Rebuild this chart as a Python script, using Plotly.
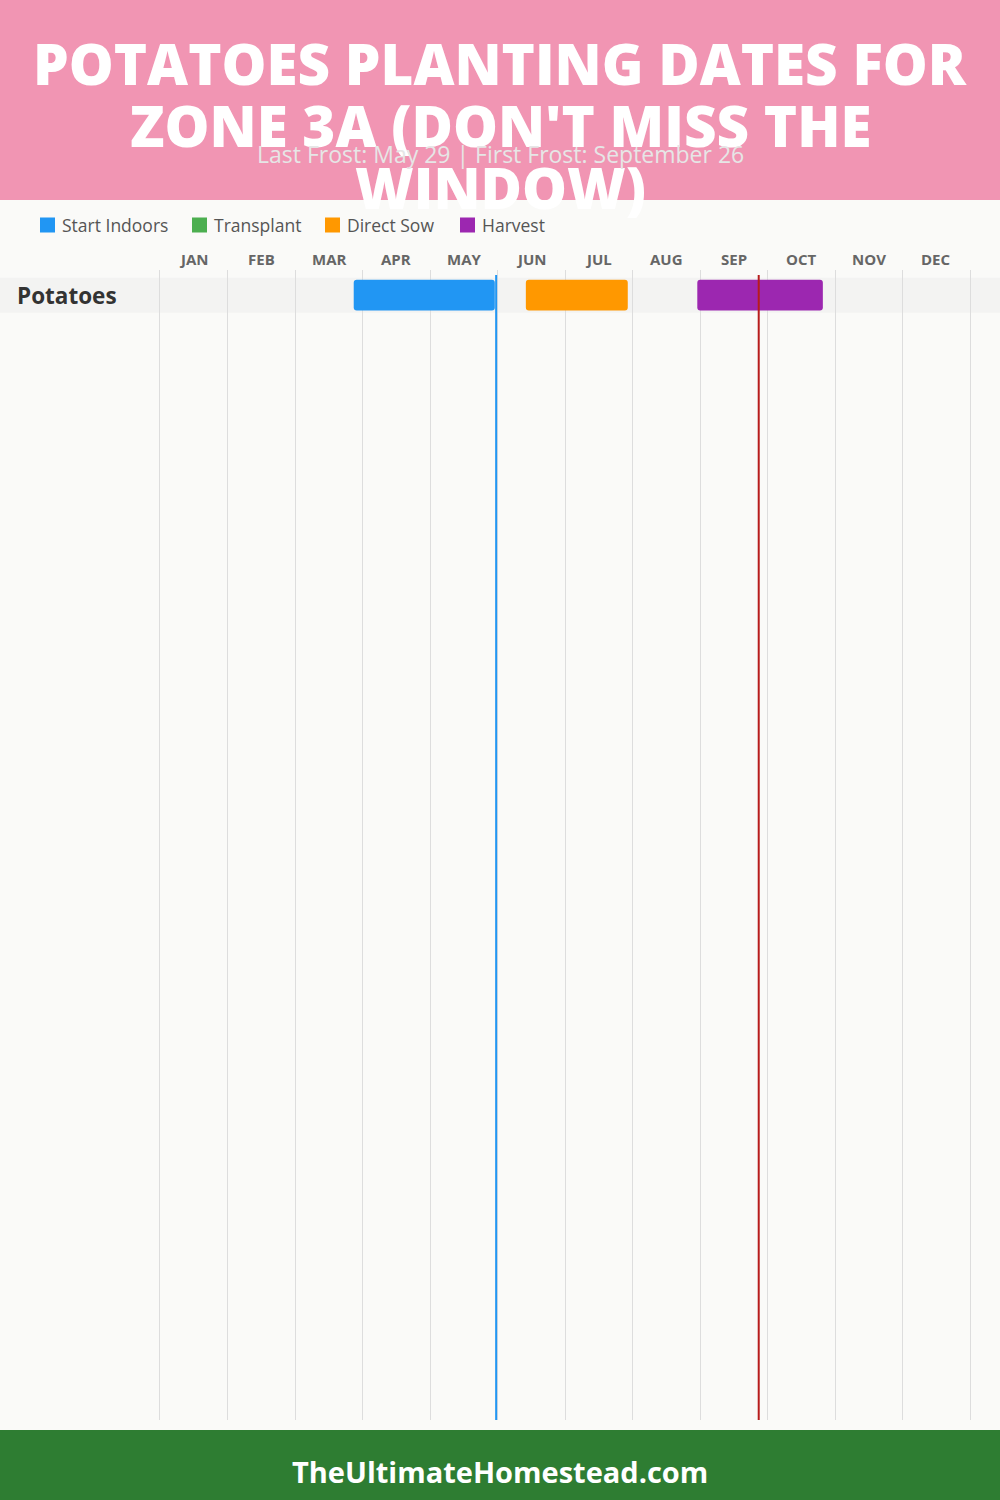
import plotly.graph_objects as go

# ---------------- data ----------------
crops = ["Potatoes"]
months = ["JAN", "FEB", "MAR", "APR", "MAY", "JUN", "JUL", "AUG", "SEP", "OCT", "NOV", "DEC"]
stages = ["Start Indoors", "Transplant", "Direct Sow", "Harvest"]
stage_colors = ["#2196F3", "#4CAF50", "#FF9800", "#9C27B0"]
# start / end of each stage per crop, in month units (0 = Jan 1, 12 = Dec 31)
stage_start = {"Start Indoors": [2.87], "Transplant": [None], "Direct Sow": [5.42], "Harvest": [7.96]}
stage_end = {"Start Indoors": [4.96], "Transplant": [None], "Direct Sow": [6.93], "Harvest": [9.82]}
last_frost = 4.98   # May 29
first_frost = 8.87  # September 26

title_lines = ["POTATOES PLANTING DATES FOR", "ZONE 3A (DON'T MISS THE", "WINDOW)"]
subtitle = "Last Frost: May 29 | First Frost: September 26"
footer = "TheUltimateHomestead.com"

W, H = 1000, 1500
def py(px):
    return 1 - px / H
def pxx(px):
    return px / W

fig = go.Figure()
for s, c in zip(stages, stage_colors):
    xs, bs, ys = [], [], []
    for i, crop in enumerate(crops):
        a, b = stage_start[s][i], stage_end[s][i]
        if a is None:
            continue
        bs.append(a); xs.append(b - a); ys.append(i)
    fig.add_trace(go.Bar(
        y=ys, x=xs, base=bs, orientation="h", name=s,
        marker=dict(color=c, line=dict(width=0)), width=0.88,
        showlegend=False, hoverinfo="skip",
    ))

shapes = []
annotations = []
# header
shapes.append(dict(type="rect", xref="paper", yref="paper", x0=0, x1=1, y0=py(200), y1=1,
                   fillcolor="#F195B3", line_width=0, layer="below"))
# footer
shapes.append(dict(type="rect", xref="paper", yref="paper", x0=0, x1=1, y0=0, y1=py(1430),
                   fillcolor="#2E7D32", line_width=0, layer="below"))
# row bands
for i, crop in enumerate(crops):
    shapes.append(dict(type="rect", xref="paper", yref="y", x0=0, x1=1, y0=i - 0.5, y1=i + 0.5,
                       fillcolor="#F3F3F2", line_width=0, layer="below"))
# frost lines
shapes.append(dict(type="line", xref="x", yref="paper", x0=last_frost, x1=last_frost,
                   y0=py(1420), y1=py(275), line=dict(color="#2196F3", width=2)))
shapes.append(dict(type="line", xref="x", yref="paper", x0=first_frost, x1=first_frost,
                   y0=py(1420), y1=py(275), line=dict(color="#B71C1C", width=2)))

# legend (manual, squares + labels)
legend_x = [40, 192, 325, 460]
for s, c, lx in zip(stages, stage_colors, legend_x):
    shapes.append(dict(type="rect", xref="paper", yref="paper", x0=pxx(lx), x1=pxx(lx + 15),
                       y0=py(232.5), y1=py(217.5), fillcolor=c, line_width=0))
    annotations.append(dict(text=s, xref="paper", yref="paper", x=pxx(lx + 20), y=py(225),
                            xanchor="left", yanchor="middle", showarrow=False,
                            font=dict(family="Open Sans", size=17.5, color="#555555")))

title_y = [63, 125, 187]
for t, ty in zip(title_lines, title_y):
    annotations.append(dict(text=t, xref="paper", yref="paper", x=0.5, y=py(ty), xanchor="center",
                            yanchor="middle", showarrow=False,
                            font=dict(family="Open Sans", size=56.5, color="white", weight=800)))
annotations.append(dict(text=subtitle, xref="paper", yref="paper", x=0.5, y=py(154), xanchor="center",
                        yanchor="middle", showarrow=False,
                        font=dict(family="Open Sans", size=23, color="#E6E6E6")))
annotations.append(dict(text=footer, xref="paper", yref="paper", x=0.5, y=py(1471), xanchor="center",
                        yanchor="middle", showarrow=False,
                        font=dict(family="Open Sans", size=29, color="white", weight=700)))
for i, m in enumerate(months):
    annotations.append(dict(text=m, xref="x", yref="paper", x=i + 0.5, y=py(259), xanchor="center",
                            yanchor="middle", showarrow=False,
                            font=dict(family="Open Sans", size=15, color="#666666", weight=700)))
for i, crop in enumerate(crops):
    annotations.append(dict(text=crop, xref="paper", yref="y", x=0.015, y=i, xanchor="left",
                            yanchor="middle", showarrow=False,
                            font=dict(family="Open Sans", size=22.5, color="#333333", weight=700)))

fig.update_layout(
    width=W, height=H, margin=dict(l=0, r=0, t=0, b=0),
    paper_bgcolor="#FAFAF8", plot_bgcolor="#FAFAF8",
    barmode="overlay", barcornerradius=3, showlegend=False,
    shapes=shapes, annotations=annotations,
    xaxis=dict(range=[0, 12], domain=[0.16, 0.97], tickvals=list(range(13)), showticklabels=False,
               showgrid=True, gridcolor="#DDDDDD", gridwidth=1, zeroline=False, fixedrange=True),
    yaxis=dict(range=[32.14, -0.72], domain=[py(1420), py(270)], showticklabels=False,
               showgrid=False, zeroline=False, fixedrange=True,
               showline=True, mirror=True, linecolor="#DDDDDD", linewidth=1),
)

fig.write_html("out.html", config={"displayModeBar": False},
               post_script="document.body.style.margin='0';document.body.style.padding='0';")
